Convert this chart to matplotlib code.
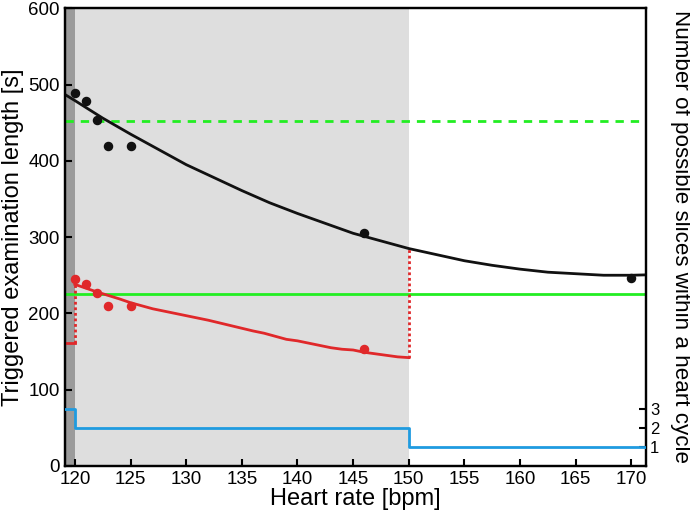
import matplotlib
matplotlib.use("Agg")
import matplotlib.pyplot as plt

plt.rcParams['font.family'] = ['Liberation Sans', 'DejaVu Sans']

# measured points
black_hr = [120, 121, 122, 123, 125, 146, 170]
black_len = [489, 479, 454, 419, 419, 305, 247]
red_hr = [120, 121, 122, 123, 125, 146]
red_len = [245, 239, 227, 210, 210, 153]

# fitted curve
fit_hr = [119.1, 120, 122.5, 125, 127.5, 130, 132.5, 135, 137.5, 140, 142.5,
          145, 147.5, 150, 152.5, 155, 157.5, 160, 162.5, 165, 167.5, 170, 171.3]
fit_len = [487, 479, 456, 435, 415, 395, 378, 361, 345, 331, 318,
           305, 295, 285, 277, 269, 263, 258, 254, 252, 250, 250, 250.5]

# red model line
red_line_hr = [120, 122, 124, 125, 126, 127, 128, 130, 132, 134, 136, 137,
               138, 139, 140, 141, 142, 143, 144, 145, 146, 147, 148, 149, 150]
red_line_len = [238, 228, 219, 214, 210, 206, 203, 197, 191, 184, 177, 174,
                170, 166, 164, 161, 158, 155, 153, 152, 149, 147, 145, 143, 142]

green_solid = 225
green_dashed = 452

# slices per heart cycle (right axis)
slice_hr = [119.1, 120, 150, 171.3]
slice_n = [3, 2, 1, 1]

x_min, x_max = 119.1, 171.3

fig = plt.figure(figsize=(6.9, 5.16), dpi=100)
ax = fig.add_axes([0.094, 0.097, 0.842, 0.887])

ax.axvspan(x_min, 120, color='#9b9b9b', lw=0, zorder=0)
ax.axvspan(120, 150, color='#dedede', lw=0, zorder=0)

ax.axhline(green_dashed, color='#22ee22', lw=2, ls=(0, (3, 2.5)), zorder=2)
ax.axhline(green_solid, color='#22ee22', lw=2, zorder=2)

ax.plot(fit_hr, fit_len, color='#111111', lw=2, zorder=3)
ax.scatter(black_hr, black_len, s=34, color='#111111', zorder=4)

ax.plot(red_line_hr, red_line_len, color='#e0282a', lw=2, zorder=3)
ax.scatter(red_hr, red_len, s=34, color='#e0282a', zorder=4)
ax.plot([x_min, 120], [161, 161], color='#e0282a', lw=2, zorder=3)
ax.plot([120, 120], [161, red_line_len[0]], color='#e0282a', lw=2,
        ls=(0, (1, 1)), zorder=3)
ax.plot([150, 150], [red_line_len[-1], 285], color='#e0282a', lw=2,
        ls=(0, (1, 1)), zorder=3)

ax.set_xlim(x_min, x_max)
ax.set_ylim(0, 600)
ax.set_xticks(range(120, 171, 5))
ax.set_yticks(range(0, 601, 100))
ax.tick_params(direction='in', length=5, width=1.5, labelsize=13.5)
for s in ax.spines.values():
    s.set_linewidth(1.6)
ax.set_xlabel("Heart rate [bpm]", fontsize=17, labelpad=0)
ax.set_ylabel("Triggered examination length [s]", fontsize=17, labelpad=3)

ax2 = ax.twinx()
ax2.step(slice_hr, slice_n, where='post', color='#1f9be0', lw=2, zorder=3)
ax2.set_ylim(0, 24)
ax2.set_yticks([1, 2, 3])
ax2.tick_params(direction='in', length=5, width=1.5, labelsize=12, pad=3)
for s in ax2.spines.values():
    s.set_linewidth(1.6)

fig.text(0.986, 0.542, "Number of possible slices within a heart cycle",
         fontsize=16.1, rotation=-90, ha='center', va='center')

fig.savefig("out.png", dpi=100)
